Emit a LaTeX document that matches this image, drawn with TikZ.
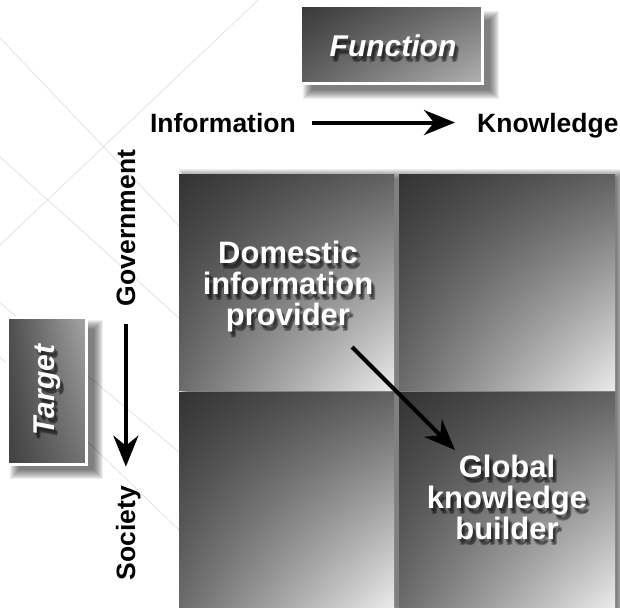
\documentclass[tikz,border=0pt]{standalone}
\usepackage{fontspec}
\setmainfont{Liberation Sans}
\usetikzlibrary{calc,arrows.meta,shadings}
\tikzset{
	bgline/.style={line width=0.5pt, color=black!16},
	cell/.style={upper left=black!80, upper right=black!62, lower left=black!58, lower right=black!8},
	axislabel/.style={font=\fontsize{26.5}{28}\selectfont\bfseries, inner sep=0pt},
	celltext/.style={font=\fontsize{31}{31}\selectfont\bfseries, text=white, align=center, inner sep=0pt},
	titletext/.style={font=\fontsize{30}{32}\selectfont\bfseries\itshape, text=white, inner sep=0pt},
	bigarrow/.style={line width=4pt, -{Stealth[length=31pt, width=25pt, inset=10pt]}},
}
% white label with a soft dark shadow
\def\shadowlabel[#1](#2)(#3)#4{%
	\foreach \dx/\dy [count=\k] in {2/3,4/5,3/6}
		\node[#1, text=black, opacity=0.28] (#2-s\k) at ($(#3)+(\dx,\dy)$) {#4};
	\node[#1] (#2) at (#3) {#4};}
% blurred box shadow
\def\softshadow(#1,#2)(#3,#4){\foreach \i in {0,...,9} \fill[black, opacity=0.065] (#1-\i,#2-\i) rectangle (#3+\i,#4+\i);}

\begin{document}
\begin{tikzpicture}[x=1pt, y=-1pt]
			%%%%% START %%%%%
			\useasboundingbox (0,0) rectangle (620,607);
			
			\draw[bgline] (258,0) -- (0,245);
			\draw[bgline] (0,38) -- (179,226);
			\draw[bgline] (0,157) -- (179,318);
			\draw[bgline] (0,303) -- (179,452);
			\draw[bgline] (0,357) -- (179,530);
			
			\softshadow(188,178)(617,607);
			\shade[cell] (179,174) rectangle (394,390);
			\shade[cell] (399,174) rectangle (615,390);
			\shade[cell] (179,392) rectangle (394,607);
			\shade[cell] (399,392) rectangle (615,607);
			
			\softshadow(312,20)(490,90);
			\shade[upper left=black!78, upper right=black!55, lower left=black!62, lower right=black!30] (300,6) rectangle (482,84);
			\draw[white, line width=3pt] (300,6) rectangle (482,84);
			\shadowlabel[titletext](func)(393,46){Function};
			
			\softshadow(19,329)(94,470);
			\shade[upper left=black!70, upper right=black!35, lower left=black!75, lower right=black!55] (7,317) rectangle (86,464);
			\draw[white, line width=3pt] (7,317) rectangle (86,464);
			\shadowlabel[titletext, rotate=90](targ)(47,390){Target};
			
			\node[axislabel, anchor=base east] (info) at (296,132) {Information};
			\node[axislabel, anchor=base west] (know) at (477,132) {Knowledge};
			\draw[bigarrow, shorten <=16pt, shorten >=22pt] (info.east) -- (info.east -| know.west);
			
			\node[axislabel, anchor=base, rotate=90] (gov) at (135,228) {Government};
			\node[axislabel, anchor=base, rotate=90] (soc) at (135,533) {Society};
			\draw[bigarrow, shorten <=18pt, shorten >=19pt] (gov.west) -- (gov.west |- soc.east);
			
			\shadowlabel[celltext](dom)(288,286){Domestic\\information\\provider};
			\shadowlabel[celltext](glob)(507,497){Global\\knowledge\\builder};
			
			\coordinate (dp) at (352,347);
			\coordinate (gk) at (455,450);
			\draw[bigarrow] (dp) -- (gk);
			
			%%%%% END %%%%%
\end{tikzpicture}
\end{document}
